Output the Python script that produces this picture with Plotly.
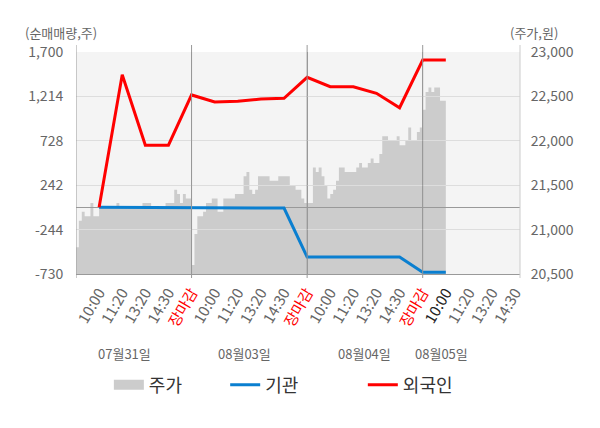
import plotly.graph_objects as go

# x positions are "slots": each trading day = 5 slots (10:00, 11:20, 13:20, 14:30, 장마감)
tick_slots = list(range(1, 20))
tick_labels = ['10:00', '11:20', '13:20', '14:30', '<span style="color:#ff0000">장마감</span>',
               '10:00', '11:20', '13:20', '14:30', '<span style="color:#ff0000">장마감</span>',
               '10:00', '11:20', '13:20', '14:30', '<span style="color:#ff0000">장마감</span>',
               '<span style="color:#222222">10:00</span>', '11:20', '13:20', '14:30']
dates = ['07월31일', '08월03일', '08월04일', '08월05일']
date_slots = [2.1, 7.3, 12.5, 15.8]

# net buying (shares) at each labelled slot
net_slots = list(range(1, 17))
foreign = [0, 1450, 680, 680, 1230, 1153, 1160, 1186, 1193, 1423, 1320, 1320, 1248, 1090, 1612, 1612]
inst = [0, 0, 0, 0, -8, -8, -8, -8, -8, -544, -544, -544, -544, -544, -711, -711]

# intraday price, 40 samples per day
price_d1 = [20800, 21100, 21200, 21150, 21150, 21300, 21150, 21150, 21250, 21250,
            21250, 21250, 21250, 21250, 21300, 21250, 21250, 21250, 21250, 21250,
            21250, 21250, 21250, 21300, 21300, 21300, 21250, 21250, 21250, 21250,
            21250, 21300, 21300, 21300, 21450, 21400, 21300, 21400, 21350, 21350]
price_d2 = [20600, 20950, 21150, 21150, 21200, 21300, 21300, 21350, 21350, 21200,
            21200, 21350, 21350, 21350, 21350, 21400, 21400, 21400, 21600, 21650,
            21450, 21400, 21450, 21600, 21600, 21600, 21600, 21550, 21550, 21550,
            21600, 21600, 21600, 21600, 21500, 21500, 21450, 21450, 21350, 21300]
price_d3 = [21300, 21300, 21700, 21650, 21700, 21600, 21500, 21350, 21400, 21450,
            21550, 21700, 21700, 21650, 21650, 21650, 21650, 21700, 21750, 21700,
            21700, 21750, 21800, 21750, 21750, 21850, 22050, 22050, 22000, 22000,
            22000, 22050, 21950, 21950, 22000, 22150, 22000, 22000, 22100, 22150]
price_d4 = [22350, 22550, 22600, 22550, 22600, 22600, 22450, 22450, 22450]

price = price_d1 + price_d2 + price_d3 + price_d4
price_x = [i * 5 / 40 for i in range(len(price))]

left_ticks = [-730, -244, 242, 728, 1214, 1700]
left_text = ['-730', '-244', '242', '728', '1,214', '1,700']
right_ticks = [20500, 21000, 21500, 22000, 22500, 23000]
right_text = ['20,500', '21,000', '21,500', '22,000', '22,500', '23,000']

FONT = 'Noto Sans CJK KR'
XMAX = 19.21

fig = go.Figure()
fig.add_trace(go.Scatter(x=price_x, y=price, name='주가', mode='lines', line_shape='hv',
                         line=dict(width=0, color='#cccccc'), fill='tozeroy',
                         fillcolor='#cccccc', xaxis='x', yaxis='y', showlegend=False))
# legend swatch for the price area (wide grey box)
fig.add_trace(go.Scatter(x=[None], y=[None], name='주가', mode='lines',
                         line=dict(width=15, color='#cccccc'), xaxis='x', yaxis='y',
                         legend='legend'))
fig.add_trace(go.Scatter(x=net_slots, y=inst, name='기관', mode='lines',
                         line=dict(width=3, color='#0a7fd0'), xaxis='x2', yaxis='y2',
                         legend='legend2'))
fig.add_trace(go.Scatter(x=net_slots, y=foreign, name='외국인', mode='lines',
                         line=dict(width=3, color='#ff0000'), xaxis='x2', yaxis='y2',
                         legend='legend3'))

shapes = [dict(type='rect', xref='paper', yref='paper', x0=0, x1=1, y0=0, y1=1,
               fillcolor='#f4f4f4', line_width=0, layer='below')]
for xv in [0, 5, 10, 15]:
    shapes.append(dict(type='line', xref='x', yref='paper', x0=xv, x1=xv,
                       y0=-4 / 222, y1=1 + 7 / 222, line=dict(color='#999999', width=1)))
shapes.append(dict(type='line', xref='paper', yref='paper', x0=1, x1=1,
                   y0=-4 / 222, y1=1 + 7 / 222, line=dict(color='#cccccc', width=1)))

annotations = [
    dict(text='(순매매량,주)', xref='paper', yref='paper', x=-0.034, y=1.086,
         xanchor='center', yanchor='middle', showarrow=False, font=dict(size=13, color='#666666')),
    dict(text='(주가,원)', xref='paper', yref='paper', x=0.972, y=1.086,
         xanchor='left', yanchor='middle', showarrow=False, font=dict(size=13, color='#666666')),
]
for d, s in zip(dates, date_slots):
    annotations.append(dict(text=d, xref='x', yref='paper', x=s, y=-0.356, xanchor='center',
                            yanchor='middle', showarrow=False,
                            font=dict(size=13, color='#666666')))

leg = dict(orientation='h', yanchor='middle', y=-0.5, xanchor='left',
           font=dict(size=18, color='#333333'), bgcolor='rgba(0,0,0,0)')

# page body has an 8px margin, so the figure is 8px smaller and margins shifted
fig.update_layout(
    width=592, height=420,
    margin=dict(l=68, r=80, t=44, b=154, autoexpand=False),
    paper_bgcolor='white', plot_bgcolor='rgba(0,0,0,0)',
    font=dict(family=FONT, color='#666666'),
    showlegend=True,
    legend=dict(leg, x=0.074),
    legend2=dict(leg, x=0.336),
    legend3=dict(leg, x=0.646),
    hovermode=False,
    shapes=shapes,
    annotations=annotations,
    xaxis=dict(domain=[0, 1], range=[0, XMAX], tickvals=tick_slots, ticktext=tick_labels,
               tickangle=-60, tickfont=dict(size=15, color='#666666'), ticks='outside',
               ticklen=3, tickcolor='rgba(0,0,0,0)', showgrid=False, zeroline=False,
               showline=True, linecolor='#999999', linewidth=1, anchor='y'),
    yaxis=dict(domain=[0, 1], range=[20500, 23000], side='right', tickvals=right_ticks,
               ticktext=right_text, tickfont=dict(size=14, color='#666666'), ticks='outside',
               ticklen=7, tickcolor='rgba(0,0,0,0)', showgrid=False, zeroline=False,
               showline=False, anchor='x'),
    xaxis2=dict(domain=[0, 1], range=[0, XMAX], tickvals=[5, 10, 15], showticklabels=False,
                showgrid=True, gridcolor='#999999', gridwidth=1, zeroline=False,
                showline=False, anchor='y2'),
    yaxis2=dict(domain=[0, 1], range=[-730, 1700], side='left', tickvals=left_ticks,
                ticktext=left_text, tickfont=dict(size=14, color='#666666'), ticks='outside',
                ticklen=9, tickcolor='rgba(0,0,0,0)', showgrid=True, gridcolor='#dddddd',
                gridwidth=1, zeroline=True, zerolinecolor='#999999', zerolinewidth=1,
                showline=False, anchor='x2'),
)

fig.write_html('out.html')
